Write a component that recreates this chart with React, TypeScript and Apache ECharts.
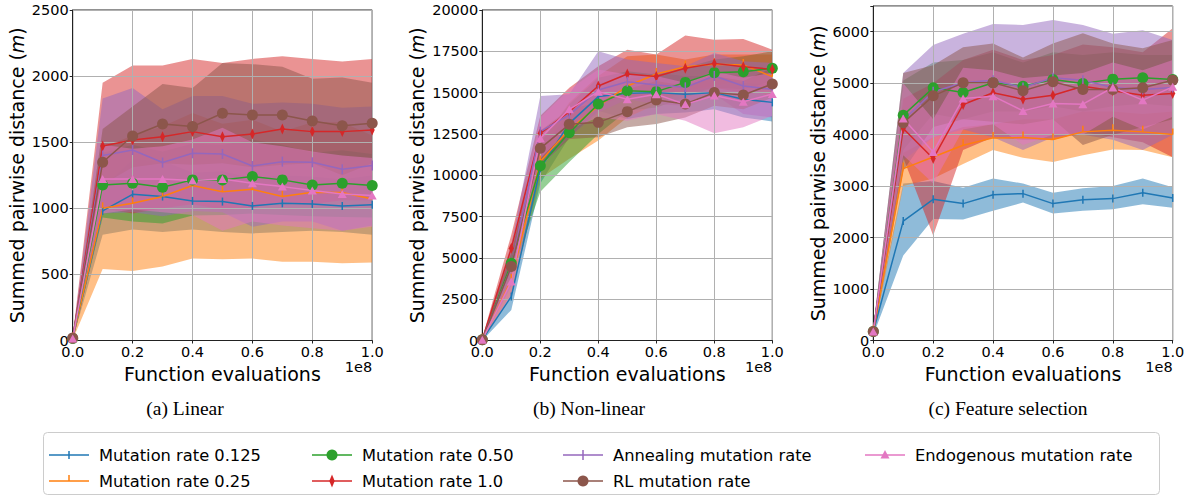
import React, { useEffect, useRef } from "react";
import * as echarts from "echarts";

// ---------- data ----------
const X_VALUES = [0, 0.1, 0.2, 0.3, 0.4, 0.5, 0.6, 0.7, 0.8, 0.9, 1.0];
const SERIES_NAMES = [
  "Mutation rate 0.125",
  "Mutation rate 0.25",
  "Mutation rate 0.50",
  "Mutation rate 1.0",
  "Annealing mutation rate",
  "RL mutation rate",
  "Endogenous mutation rate",
];
const PANEL_TITLES = ["(a) Linear", "(b) Non-linear", "(c) Feature selection"];
const Y_MAX = [2500, 20000, 6500];
const Y_INTERVAL = [500, 2500, 1000];
const X_LABEL = "Function evaluations";
const X_SCALE_LABEL = "1e8";

// (a) Linear
const LINEAR_MEAN = [
  [15, 980, 1106, 1089, 1056, 1051, 1018, 1038, 1033, 1018, 1026],
  [15, 1000, 1038, 1089, 1172, 1126, 1144, 1089, 1121, 1119, 1071],
  [15, 1177, 1189, 1159, 1215, 1215, 1240, 1215, 1177, 1189, 1172],
  [15, 1472, 1517, 1542, 1580, 1542, 1562, 1600, 1580, 1580, 1593],
  [15, 1399, 1441, 1346, 1416, 1411, 1320, 1353, 1348, 1295, 1323],
  [18, 1348, 1547, 1638, 1618, 1719, 1706, 1706, 1661, 1625, 1643],
  [15, 1222, 1222, 1222, 1210, 1222, 1189, 1164, 1134, 1109, 1096],
];
const LINEAR_LOW = [
  [5, 800, 840, 820, 840, 820, 810, 820, 830, 820, 800],
  [5, 540, 525, 560, 620, 615, 620, 595, 595, 585, 590],
  [5, 930, 900, 885, 945, 950, 960, 950, 940, 935, 930],
  [5, 1000, 960, 1000, 1030, 990, 1000, 1050, 1030, 1060, 1060],
  [5, 960, 970, 940, 980, 970, 860, 900, 900, 830, 870],
  [5, 1180, 1310, 1340, 1330, 1340, 1310, 1330, 1340, 1250, 1340],
  [5, 960, 990, 970, 950, 830, 900, 870, 850, 830, 860],
];
const LINEAR_HIGH = [
  [25, 1160, 1370, 1360, 1270, 1280, 1230, 1250, 1240, 1220, 1250],
  [25, 1460, 1550, 1620, 1720, 1640, 1670, 1580, 1650, 1650, 1550],
  [25, 1420, 1480, 1430, 1490, 1480, 1520, 1480, 1420, 1440, 1410],
  [30, 1950, 2080, 2080, 2130, 2100, 2130, 2150, 2130, 2110, 2130],
  [25, 1830, 1910, 1750, 1850, 1850, 1790, 1800, 1790, 1760, 1770],
  [30, 1600, 1770, 1940, 1910, 2100, 2090, 2070, 1980, 1990, 1950],
  [25, 1480, 1450, 1470, 1520, 1610, 1500, 1470, 1430, 1400, 1380],
];

// (b) Non-linear
const NONLINEAR_MEAN = [
  [50, 2660, 10420, 13140, 14760, 14960, 15000, 14900, 15000, 14600, 14410],
  [50, 3670, 10830, 12780, 14190, 15400, 16130, 16570, 16710, 16670, 15970],
  [50, 4680, 10580, 12580, 14310, 15120, 15060, 15620, 16210, 16270, 16470],
  [50, 5580, 12540, 13850, 15400, 16130, 15970, 16470, 16770, 16570, 16410],
  [50, 4480, 12640, 13650, 15160, 15660, 15460, 15320, 16010, 15400, 15200],
  [50, 4480, 11630, 13080, 13200, 13850, 14560, 14310, 15000, 14860, 15520],
  [50, 3570, 12240, 13990, 15060, 14600, 14900, 14290, 14820, 14450, 14920],
];
const NONLINEAR_LOW = [
  [0, 1850, 9500, 12300, 13900, 13400, 13700, 13800, 14000, 13500, 13250],
  [0, 2800, 9800, 11000, 12100, 13500, 14300, 15100, 15400, 15700, 14600],
  [0, 3900, 9000, 10800, 12500, 13900, 14100, 14700, 15300, 15200, 15700],
  [0, 4700, 11000, 12500, 14300, 14800, 14800, 14900, 15300, 15000, 15200],
  [0, 3300, 10500, 12300, 13800, 14600, 14300, 14200, 14900, 13700, 13500],
  [0, 3700, 10600, 12200, 12300, 12900, 13100, 13500, 14200, 14000, 14700],
  [0, 2700, 11000, 12800, 13500, 13300, 13700, 13300, 12540, 12900, 13600],
];
const NONLINEAR_HIGH = [
  [150, 3500, 11400, 13900, 15600, 15800, 16200, 16000, 16000, 15600, 15500],
  [150, 4600, 11900, 14400, 16000, 17200, 17300, 17000, 17300, 17300, 17300],
  [150, 5400, 12000, 14300, 15900, 16300, 16100, 16500, 17000, 17200, 17500],
  [150, 6400, 13600, 15300, 16600, 17600, 17300, 18450, 18200, 18250, 17600],
  [150, 5800, 14800, 14900, 17500, 17000, 16800, 16600, 17400, 16900, 16800],
  [150, 5300, 12700, 14000, 14400, 15200, 15700, 15400, 16000, 15700, 16500],
  [150, 4500, 13500, 15200, 16400, 16100, 16000, 15600, 16300, 15900, 16200],
];

// (c) Feature selection
const FEATURE_MEAN = [
  [175, 2320, 2744, 2660, 2834, 2854, 2660, 2737, 2757, 2873, 2770],
  [175, 3340, 3567, 3794, 3937, 3943, 3905, 4054, 4086, 4054, 4002],
  [175, 4378, 4910, 4819, 5007, 4942, 5072, 4994, 5079, 5105, 5072],
  [175, 4119, 3535, 4586, 4813, 4690, 4767, 4942, 4851, 4767, 4800],
  [175, 4281, 4832, 5007, 5059, 4916, 5105, 5059, 4916, 4877, 4916],
  [175, 4229, 4754, 5007, 5007, 4851, 5027, 4877, 4877, 4910, 5059],
  [175, 4313, 3665, 4702, 4748, 4462, 4605, 4592, 4916, 4670, 4929],
];
const FEATURE_LOW = [
  [100, 1650, 2360, 2350, 2520, 2680, 2470, 2520, 2550, 2650, 2580],
  [100, 3000, 3150, 3430, 3700, 3550, 3470, 3600, 3710, 3700, 3560],
  [100, 3700, 4400, 4300, 4450, 4450, 4550, 4450, 4550, 4600, 4550],
  [100, 3550, 2040, 3700, 3950, 3900, 3900, 4050, 3950, 3850, 3560],
  [100, 3500, 3950, 4100, 3950, 3700, 3950, 4000, 3900, 3700, 4000],
  [100, 3300, 4150, 4300, 4250, 4200, 4300, 3800, 4000, 4150, 4300],
  [100, 3600, 3050, 4100, 4200, 3800, 4000, 4000, 4350, 4100, 4350],
];
const FEATURE_HIGH = [
  [250, 3050, 3100, 2970, 3150, 3050, 2870, 2960, 3000, 3150, 2980],
  [250, 3650, 3950, 4150, 4200, 4300, 4300, 4450, 4450, 4400, 4450],
  [250, 5050, 5400, 5450, 5600, 5400, 5600, 5550, 5600, 5550, 5550],
  [250, 4700, 5000, 5450, 5650, 5450, 5550, 5750, 5700, 5600, 6070],
  [250, 5200, 5740, 5960, 6150, 6130, 6230, 6130, 5960, 6030, 5840],
  [250, 5200, 5350, 5700, 5770, 5500, 5770, 5970, 5770, 5680, 5840],
  [250, 5000, 4300, 5300, 5250, 5100, 5150, 5200, 5400, 5250, 5450],
];

// ---------- styles ----------
const COLORS = ["#1f77b4", "#ff7f0e", "#2ca02c", "#d62728", "#9467bd", "#8c564b", "#e377c2"];
const MARKERS: any[] = [
  { symbol: "rect", size: [1.5, 8], offset: [0, 0] },
  { symbol: "rect", size: [1.5, 6], offset: [0, -3] },
  { symbol: "circle", size: 11, offset: [0, 0] },
  { symbol: "diamond", size: [5, 11], offset: [0, 0] },
  { symbol: "rect", size: [1.5, 10], offset: [0, 0] },
  { symbol: "circle", size: 11, offset: [0, 0] },
  { symbol: "triangle", size: [9, 8], offset: [0, 0] },
];
const FONT = '"DejaVu Sans", sans-serif';
const SERIF = '"Liberation Serif", "Times New Roman", serif';
const GRIDS = [
  { left: 72.7, top: 10, width: 299.5, height: 330.5 },
  { left: 482.3, top: 10, width: 290, height: 330.5 },
  { left: 873.3, top: 6, width: 299.4, height: 334.5 },
];
const NAME_GAPS = [46, 56, 46];

const PANELS = [
  { mean: LINEAR_MEAN, low: LINEAR_LOW, high: LINEAR_HIGH },
  { mean: NONLINEAR_MEAN, low: NONLINEAR_LOW, high: NONLINEAR_HIGH },
  { mean: FEATURE_MEAN, low: FEATURE_LOW, high: FEATURE_HIGH },
];

function legendGraphics() {
  const els: any[] = [];
  els.push({
    type: "rect",
    shape: { x: 43.5, y: 432.5, width: 1116, height: 62, r: 4 },
    style: { fill: "#fff", stroke: "#cccccc", lineWidth: 1 },
    z: 10,
  });
  const colText = [99, 362, 613, 915];
  const rowY = [455, 481];
  SERIES_NAMES.forEach((name, i) => {
    const col = Math.floor(i / 2);
    const row = i % 2;
    const tx = colText[col];
    const cx = tx - 30;
    const cy = rowY[row];
    const color = COLORS[i];
    els.push({
      type: "line",
      shape: { x1: cx - 20, y1: cy, x2: cx + 20, y2: cy },
      style: { stroke: color, lineWidth: 1.5 },
      z: 11,
    });
    let m: any;
    if (i === 0) m = { type: "rect", shape: { x: cx - 0.75, y: cy - 4, width: 1.5, height: 8 } };
    else if (i === 1) m = { type: "rect", shape: { x: cx - 0.75, y: cy - 6, width: 1.5, height: 6 } };
    else if (i === 2 || i === 5) m = { type: "circle", shape: { cx, cy, r: 5.5 } };
    else if (i === 3)
      m = { type: "polygon", shape: { points: [[cx, cy - 6.5], [cx + 2.7, cy], [cx, cy + 6.5], [cx - 2.7, cy]] } };
    else if (i === 4) m = { type: "rect", shape: { x: cx - 0.75, y: cy - 5, width: 1.5, height: 10 } };
    else m = { type: "polygon", shape: { points: [[cx, cy - 5], [cx + 4.5, cy + 3.5], [cx - 4.5, cy + 3.5]] } };
    m.style = { fill: color };
    m.z = 12;
    els.push(m);
    els.push({
      type: "text",
      x: tx,
      y: cy,
      style: { text: name, fontSize: 16.3, fontFamily: FONT, fill: "#000", align: "left", verticalAlign: "middle" },
      z: 12,
    });
  });
  return els;
}

function buildOption() {
  const grid = GRIDS.map((g) => ({ ...g, show: true, borderColor: "#222", borderWidth: 1, backgroundColor: "transparent" }));
  const xAxis = GRIDS.map((_, pi) => ({
    gridIndex: pi,
    type: "value",
    min: 0,
    max: 1,
    interval: 0.2,
    z: 2,
    axisLine: { show: true, lineStyle: { color: "#222", width: 1 } },
    axisTick: { show: true, length: 3, lineStyle: { color: "#222" } },
    axisLabel: { formatter: (v: number) => v.toFixed(1), fontSize: 14.5, fontFamily: FONT, color: "#000", margin: 4 },
    splitLine: { show: true, lineStyle: { color: "#b0b0b0", width: 1 } },
    name: X_LABEL,
    nameLocation: "middle",
    nameGap: 19,
    nameTextStyle: { fontSize: 19, fontFamily: FONT, color: "#000" },
  }));
  const yAxis = GRIDS.map((_, pi) => ({
    gridIndex: pi,
    type: "value",
    min: 0,
    max: Y_MAX[pi],
    interval: Y_INTERVAL[pi],
    z: 2,
    axisLine: { show: true, lineStyle: { color: "#222", width: 1 } },
    axisTick: { show: true, length: 3, lineStyle: { color: "#222" } },
    axisLabel: {
      formatter: (v: number) => (v % Y_INTERVAL[pi] !== 0 ? "" : String(v)),
      fontSize: 14.5,
      fontFamily: FONT,
      color: "#000",
      margin: 4,
    },
    splitLine: { show: true, lineStyle: { color: "#b0b0b0", width: 1 } },
    name: "Summed pairwise distance ({i|m})",
    nameLocation: "middle",
    nameGap: NAME_GAPS[pi],
    nameTextStyle: {
      fontSize: 19,
      fontFamily: FONT,
      color: "#000",
      rich: { i: { fontStyle: "italic", fontSize: 19, fontFamily: FONT, color: "#000" } },
    },
  }));

  const series: any[] = [];
  // confidence bands: one polygon per method, built through the axes' scales
  PANELS.forEach((p, pi) => {
    for (let i = 0; i < SERIES_NAMES.length; i++) {
      const low = p.low[i];
      const high = p.high[i];
      const color = COLORS[i];
      series.push({
        type: "custom",
        name: `band-${pi}-${i}`,
        xAxisIndex: pi,
        yAxisIndex: pi,
        clip: true,
        silent: true,
        z: 1,
        data: X_VALUES.map((x, k) => [x, low[k], high[k]]),
        encode: { x: 0, y: [1, 2] },
        renderItem: (params: any, api: any) => {
          if (params.dataIndex !== 0) return null;
          const pts: number[][] = [];
          for (let k = 0; k < X_VALUES.length; k++) pts.push(api.coord([X_VALUES[k], high[k]]));
          for (let k = X_VALUES.length - 1; k >= 0; k--) pts.push(api.coord([X_VALUES[k], low[k]]));
          return {
            type: "polygon",
            shape: { points: pts },
            style: { fill: color, opacity: 0.5 },
          };
        },
      });
    }
  });
  PANELS.forEach((p, pi) => {
    for (let i = 0; i < SERIES_NAMES.length; i++) {
      const mk = MARKERS[i];
      series.push({
        type: "line",
        name: SERIES_NAMES[i],
        xAxisIndex: pi,
        yAxisIndex: pi,
        data: X_VALUES.map((x, k) => [x, p.mean[i][k]]),
        symbol: mk.symbol,
        symbolSize: mk.size,
        symbolOffset: mk.offset,
        symbolKeepAspect: false,
        showSymbol: true,
        showAllSymbol: true,
        itemStyle: { color: COLORS[i] },
        lineStyle: { color: COLORS[i], width: 1.5 },
        z: 3,
      });
    }
  });

  const graphic: any[] = [];
  GRIDS.forEach((g) => {
    graphic.push({
      type: "text",
      x: g.left + g.width,
      y: 367,
      style: { text: X_SCALE_LABEL, fontSize: 14.5, fontFamily: FONT, fill: "#000", align: "right", verticalAlign: "middle" },
    });
  });
  const captionX = [185, 589, 1008];
  PANEL_TITLES.forEach((t, pi) => {
    graphic.push({
      type: "text",
      x: captionX[pi],
      y: 408,
      style: { text: t, fontSize: 19.5, fontFamily: SERIF, fill: "#000", align: "center", verticalAlign: "middle" },
    });
  });
  graphic.push(...legendGraphics());

  return {
    animation: false,
    backgroundColor: "#fff",
    grid,
    xAxis,
    yAxis,
    series,
    graphic,
  };
}

export default function App() {
  const ref = useRef<HTMLDivElement>(null);
  useEffect(() => {
    if (!ref.current) return;
    const chart = echarts.init(ref.current, null, { renderer: "svg" });
    chart.setOption(buildOption() as any);
    return () => chart.dispose();
  }, []);
  return <div ref={ref} style={{ position: "fixed", left: 0, top: 0, width: 1190, height: 497 }} />;
}
